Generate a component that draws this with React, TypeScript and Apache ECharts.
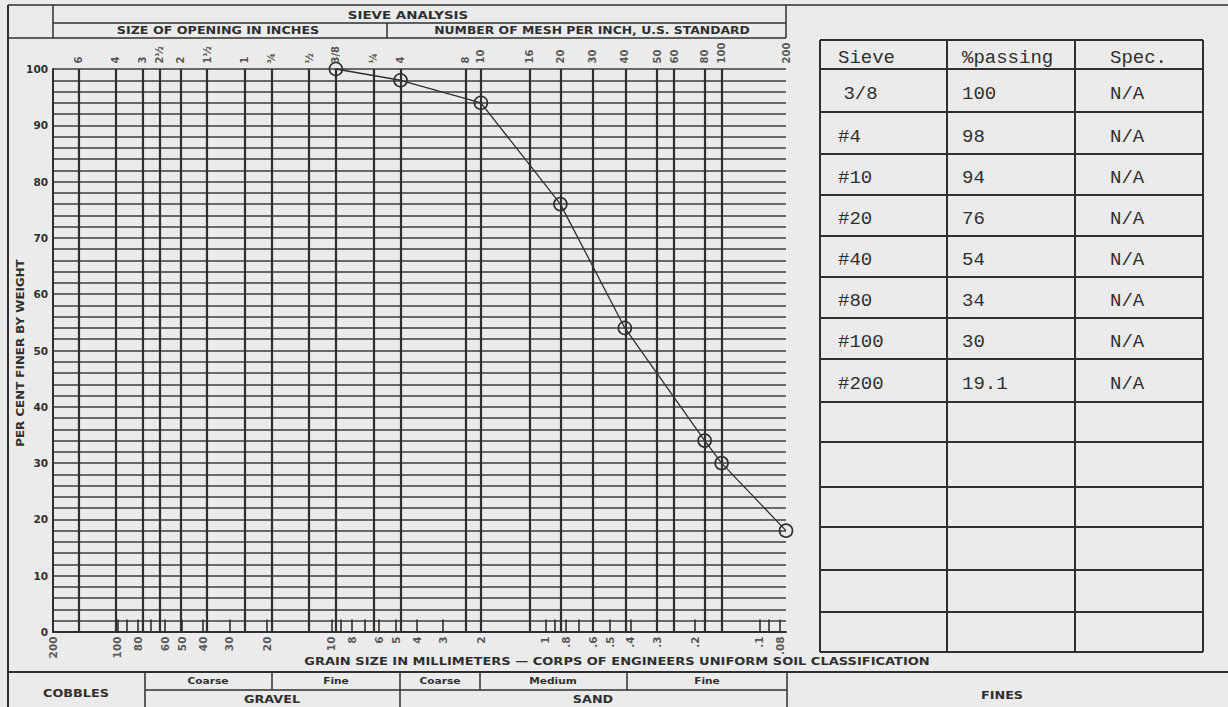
import React, { useEffect, useRef } from 'react';
import * as echarts from 'echarts';

// ---------- data ----------
// sieve openings (mm) drawn as vertical grid lines, with their top labels
const sieveSizesMm = [152.4, 101.6, 76.2, 63.5, 50.8, 38.1, 25.4, 19.05, 12.7, 9.525, 6.35, 4.75, 2.36, 2.0, 1.18, 0.85, 0.6, 0.425, 0.3, 0.25, 0.18, 0.15, 0.075];
const sieveTopLabels = ['6', '4', '3', '2½', '2', '1½', '1', '¾', '½', '3/8', '¼', '4', '8', '10', '16', '20', '30', '40', '50', '60', '80', '100', '200'];

// grain size scale (mm) labels under the chart
const mmLabelValues = [200, 100, 80, 60, 50, 40, 30, 20, 10, 8, 6, 5, 4, 3, 2, 1, 0.8, 0.6, 0.5, 0.4, 0.3, 0.2, 0.1, 0.08];
const mmLabelTexts = ['200', '100', '80', '60', '50', '40', '30', '20', '10', '8', '6', '5', '4', '3', '2', '1', '.8', '.6', '.5', '.4', '.3', '.2', '.1', '.08'];
// short ticks in the bottom strip
const mmTickValues = [100, 90, 80, 70, 60, 50, 40, 30, 20, 10, 9, 8, 7, 6, 5, 4, 3, 2, 1, 0.9, 0.8, 0.7, 0.6, 0.5, 0.4, 0.3, 0.2, 0.1, 0.09, 0.08];

// plotted gradation curve
const pointSizesMm = [9.525, 4.75, 2.0, 0.85, 0.425, 0.18, 0.15, 0.075];
const pointPassing = [100, 98, 94, 76, 54, 34, 30, 18];

// table
const tableHeaders = ['Sieve', '%passing', 'Spec.'];
const tableSieves = [' 3/8', '#4', '#10', '#20', '#40', '#80', '#100', '#200'];
const tablePassing = ['100', '98', '94', '76', '54', '34', '30', '19.1'];
const tableSpec = ['N/A', 'N/A', 'N/A', 'N/A', 'N/A', 'N/A', 'N/A', 'N/A'];

// ---------- styling / layout ----------
const INK = '#2f2f2f';
const BG = '#ebebeb';
const SANS = '"DejaVu Sans", sans-serif';
const MONO = '"Liberation Mono", "DejaVu Sans Mono", monospace';
const tableCols = [820, 947, 1075, 1203];
const tableRows = [40, 69, 112, 154, 195, 236, 277, 318, 359, 402, 442, 487, 527, 570, 612, 652];

function ln(x1: number, y1: number, x2: number, y2: number, w = 1.5) {
  return { type: 'line', silent: true, shape: { x1, y1, x2, y2 }, style: { stroke: INK, lineWidth: w } };
}
function tx(x: number, y: number, t: string, font: string, align = 'center', sx = 1, rot = 0) {
  return {
    type: 'text',
    silent: true,
    x,
    y,
    scaleX: sx,
    rotation: rot,
    style: { text: t, font, fill: INK, textAlign: align, textVerticalAlign: 'middle' },
  };
}

function buildGraphics() {
  const g: any[] = [];
  // frame + header
  g.push(ln(8, 5, 1228, 5));
  g.push(ln(8, 5, 8, 707, 2));
  g.push(ln(53, 5, 53, 38));
  g.push(ln(786, 5, 786, 38));
  g.push(ln(53, 23, 786, 23));
  g.push(ln(8, 38, 786, 38));
  g.push(ln(387, 23, 387, 38));
  g.push(tx(408, 15, 'SIEVE ANALYSIS', `bold 11px ${SANS}`, 'center', 1.22));
  g.push(tx(218, 31, 'SIZE OF OPENING IN INCHES', `bold 10px ${SANS}`, 'center', 1.27));
  g.push(tx(592, 31, 'NUMBER OF MESH PER INCH, U.S. STANDARD', `bold 10px ${SANS}`, 'center', 1.24));
  // y axis title
  g.push(tx(20, 353, 'PER CENT FINER BY WEIGHT', `bold 11px ${SANS}`, 'center', 1.08, Math.PI / 2));
  // bottom classification
  g.push(tx(617, 661, 'GRAIN SIZE IN MILLIMETERS — CORPS OF ENGINEERS UNIFORM SOIL CLASSIFICATION', `bold 10.5px ${SANS}`, 'center', 1.24));
  g.push(ln(8, 672, 1228, 672, 2));
  g.push(ln(145, 672, 145, 707));
  g.push(ln(145, 690, 787, 690));
  g.push(ln(272, 672, 272, 690));
  g.push(ln(400, 672, 400, 707));
  g.push(ln(480, 672, 480, 690));
  g.push(ln(627, 672, 627, 690));
  g.push(ln(787, 672, 787, 707));
  g.push(tx(76, 693, 'COBBLES', `bold 10.5px ${SANS}`, 'center', 1.22));
  g.push(tx(208, 681, 'Coarse', `bold 9px ${SANS}`, 'center', 1.18));
  g.push(tx(336, 681, 'Fine', `bold 9px ${SANS}`, 'center', 1.18));
  g.push(tx(272, 699, 'GRAVEL', `bold 10.5px ${SANS}`, 'center', 1.22));
  g.push(tx(440, 681, 'Coarse', `bold 9px ${SANS}`, 'center', 1.18));
  g.push(tx(553, 681, 'Medium', `bold 9px ${SANS}`, 'center', 1.18));
  g.push(tx(707, 681, 'Fine', `bold 9px ${SANS}`, 'center', 1.18));
  g.push(tx(593, 699, 'SAND', `bold 10.5px ${SANS}`, 'center', 1.22));
  g.push(tx(1002, 695, 'FINES', `bold 10.5px ${SANS}`, 'center', 1.22));
  // table
  tableCols.forEach((x) => g.push(ln(x, tableRows[0], x, tableRows[tableRows.length - 1], 2)));
  tableRows.forEach((y) => g.push(ln(tableCols[0], y, tableCols[3], y, 1.8)));
  const tf = `19px ${MONO}`;
  const colX = [838, 962, 1110];
  tableHeaders.forEach((h, i) => g.push(tx(colX[i], (tableRows[0] + tableRows[1]) / 2 + 3.5, h, tf, 'left')));
  tableSieves.forEach((s, r) => {
    const y = (tableRows[r + 1] + tableRows[r + 2]) / 2 + 3.5;
    g.push(tx(colX[0] - (s.startsWith(' ') ? 6 : 0), y, s, tf, 'left'));
    g.push(tx(colX[1], y, tablePassing[r], tf, 'left'));
    g.push(tx(colX[2], y, tableSpec[r], tf, 'left'));
  });
  return g;
}

export default function App() {
  const ref = useRef<HTMLDivElement>(null);
  useEffect(() => {
    if (!ref.current) return;
    const chart = echarts.init(ref.current, undefined, { renderer: 'svg' });
    const labelFont = { fontFamily: SANS, fontWeight: 'bold' as const, fontSize: 10, color: INK };
    chart.setOption({
      animation: false,
      backgroundColor: BG,
      grid: { left: 53, top: 69, width: 733, height: 563, containLabel: false },
      xAxis: {
        type: 'log',
        logBase: 10,
        min: 0.075,
        max: 200,
        inverse: true,
        axisLine: { show: true, onZero: false, lineStyle: { color: INK, width: 2 } },
        axisTick: { show: false },
        axisLabel: { show: false },
        splitLine: { show: false },
        minorSplitLine: { show: false },
      },
      yAxis: {
        type: 'value',
        min: 0,
        max: 100,
        interval: 2,
        axisLine: { show: true, lineStyle: { color: INK, width: 2 } },
        axisTick: { show: false },
        axisLabel: {
          ...labelFont,
          fontSize: 10.5,
          margin: 5,
          formatter: (v: number) => (v % 10 === 0 ? String(v) : ''),
        },
        splitLine: { show: true, lineStyle: { color: '#3c3c3c', width: 1.5 } },
      },
      series: [
        {
          name: 'sieves',
          type: 'scatter',
          silent: true,
          symbolSize: 1,
          itemStyle: { color: 'transparent' },
          data: sieveSizesMm.map((m) => [m, 100]),
          label: {
            show: true,
            ...labelFont,
            position: [0.5, -5],
            rotate: 90,
            align: 'left',
            verticalAlign: 'middle',
            formatter: (p: any) => sieveTopLabels[p.dataIndex],
          },
          markLine: {
            silent: true,
            symbol: ['none', 'none'],
            label: { show: false },
            lineStyle: { color: INK, width: 2.2, type: 'solid' },
            data: sieveSizesMm.map((v) => ({ xAxis: v })),
          },
          z: 3,
        },
        {
          name: 'mm',
          type: 'scatter',
          silent: true,
          symbolSize: 1,
          itemStyle: { color: 'transparent' },
          data: mmLabelValues.map((m) => [m, 0]),
          label: {
            show: true,
            ...labelFont,
            fontSize: 10.5,
            position: [0.5, 5],
            rotate: 90,
            align: 'right',
            verticalAlign: 'middle',
            formatter: (p: any) => mmLabelTexts[p.dataIndex],
          },
          markLine: {
            silent: true,
            symbol: ['none', 'none'],
            label: { show: false },
            lineStyle: { color: INK, width: 1.6, type: 'solid' },
            data: mmTickValues.map((v) => [{ coord: [v, 0] }, { coord: [v, 2.2] }]),
          },
          z: 3,
        },
        {
          name: 'Percent passing',
          type: 'line',
          data: pointSizesMm.map((m, i) => [m, pointPassing[i]]),
          symbol: 'circle',
          symbolSize: 13,
          itemStyle: { color: 'transparent', borderColor: INK, borderWidth: 1.6 },
          lineStyle: { color: INK, width: 1.3 },
          clip: false,
          z: 5,
        },
      ],
      graphic: { elements: buildGraphics() },
    });
    return () => chart.dispose();
  }, []);
  return <div ref={ref} style={{ position: 'absolute', left: 0, top: 0, width: 1228, height: 707 }} />;
}
